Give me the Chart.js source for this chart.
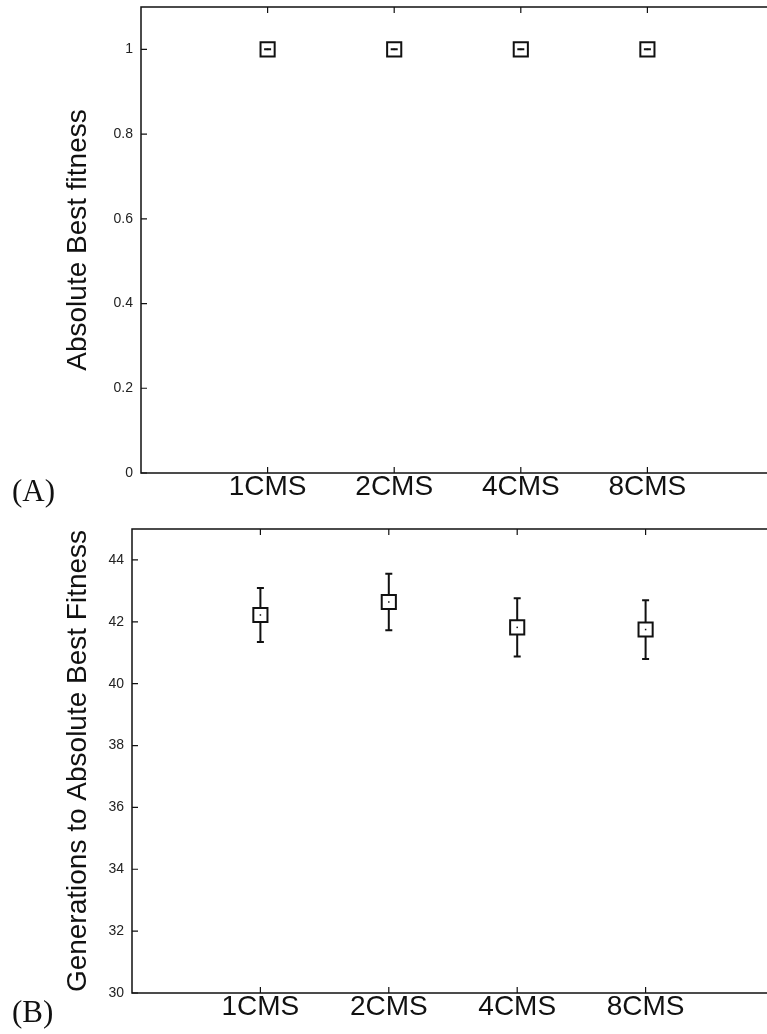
<!DOCTYPE html>
<html>
<head>
<meta charset="utf-8">
<script src="https://cdn.jsdelivr.net/npm/chart.js@4.4.0/dist/chart.umd.min.js"></script>
<style>
body { margin: 0; width: 767px; height: 1034px; overflow: hidden; background: #fff; position: relative; }
canvas { position: absolute; left: 0; }
.tag { position: absolute; left: 12px; font: 31px "Liberation Serif", "DejaVu Serif", serif; line-height: 31px; color: #111; }
</style>
</head>
<body>
<!-- the points add 12px of layout padding on every side, so the canvases sit a little outside the page -->
<canvas id="chartA" width="786" height="510" style="top:-5px;width:786px;height:510px"></canvas>
<canvas id="chartB" width="786" height="517" style="top:517px;width:786px;height:517px"></canvas>
<div class="tag" style="top:475px">(A)</div>
<div class="tag" style="top:996px">(B)</div>
<script>
// values
const categories = ['1CMS', '2CMS', '4CMS', '8CMS'];
const xPositions = [1, 2, 3, 4];
const fitnessMean = [1, 1, 1, 1];
const fitnessErr = [0, 0, 0, 0];
const genMean = [42.22, 42.64, 41.82, 41.75];
const genErr = [0.87, 0.91, 0.94, 0.95];
const yTicksA = [0, 0.2, 0.4, 0.6, 0.8, 1];
const yTicksB = [30, 32, 34, 36, 38, 40, 42, 44];

const ink = '#111';
const sans = "'Liberation Sans', Arial, sans-serif";

// box round the plot and inward tick marks, gnuplot style
const framePlugin = {
    id: 'frame',
    afterDraw(chart) {
        const { ctx, chartArea: a, scales } = chart;
        ctx.save();
        ctx.strokeStyle = ink;
        ctx.lineWidth = 1.5;
        ctx.strokeRect(a.left, a.top, a.right - a.left, a.bottom - a.top);
        ctx.lineWidth = 1.2;
        ctx.beginPath();
        scales.y.ticks.forEach(t => {
            const y = scales.y.getPixelForValue(t.value);
            ctx.moveTo(a.left, y);
            ctx.lineTo(a.left + 6, y);
        });
        scales.x.ticks.forEach(t => {
            const x = scales.x.getPixelForValue(t.value);
            ctx.moveTo(x, a.top);
            ctx.lineTo(x, a.top + 6);
            ctx.moveTo(x, a.bottom);
            ctx.lineTo(x, a.bottom - 6);
        });
        ctx.stroke();
        ctx.restore();
    }
};

// y error bars, with a gap where the square sits
const errorBarPlugin = {
    id: 'errorBars',
    afterDatasetsDraw(chart) {
        const { ctx, scales } = chart;
        const gap = 7;
        const cap = 3.5;
        ctx.save();
        ctx.strokeStyle = ink;
        ctx.lineWidth = 2;
        chart.data.datasets.forEach((ds, di) => {
            const meta = chart.getDatasetMeta(di);
            meta.data.forEach((pt, i) => {
                const v = ds.data[i].y;
                const e = ds.errors[i];
                const yTop = scales.y.getPixelForValue(v + e);
                const yBot = scales.y.getPixelForValue(v - e);
                ctx.beginPath();
                if (yTop < pt.y - gap) {
                    ctx.moveTo(pt.x, yTop);
                    ctx.lineTo(pt.x, pt.y - gap);
                    ctx.moveTo(pt.x, pt.y + gap);
                    ctx.lineTo(pt.x, yBot);
                }
                ctx.moveTo(pt.x - cap, yTop);
                ctx.lineTo(pt.x + cap, yTop);
                ctx.moveTo(pt.x - cap, yBot);
                ctx.lineTo(pt.x + cap, yBot);
                ctx.stroke();
                ctx.fillStyle = ink;
                ctx.fillRect(pt.x - 0.75, pt.y - 0.75, 1.5, 1.5);
            });
        });
        ctx.restore();
    }
};

function makeChart(id, means, errors, yTicks, yMin, yMax, yTitle, dims) {
    const ctx = document.getElementById(id).getContext('2d');
    return new Chart(ctx, {
        type: 'scatter',
        data: {
            datasets: [{
                data: xPositions.map((x, i) => ({ x: x, y: means[i] })),
                errors: errors,
                pointStyle: 'rect',
                pointRadius: 10,
                pointHoverRadius: 10,
                borderWidth: 2,
                borderColor: ink,
                backgroundColor: 'rgba(0,0,0,0)'
            }]
        },
        options: {
            responsive: false,
            animation: false,
            events: [],
            layout: { padding: 0 },
            plugins: { legend: { display: false }, tooltip: { enabled: false } },
            scales: {
                x: {
                    type: 'linear',
                    min: 0,
                    max: 5,
                    afterBuildTicks: scale => { scale.ticks = xPositions.map(v => ({ value: v })); },
                    afterFit: scale => {
                        scale.height = dims.xHeight;
                        scale.paddingLeft = 0;
                        scale.paddingRight = 0;
                    },
                    grid: { display: false, drawTicks: false },
                    border: { display: false },
                    ticks: {
                        autoSkip: false,
                        maxRotation: 0,
                        padding: -3,
                        color: ink,
                        font: { family: sans, size: 28 },
                        callback: (v, i) => categories[i]
                    }
                },
                y: {
                    min: yMin,
                    max: yMax,
                    afterBuildTicks: scale => { scale.ticks = yTicks.map(v => ({ value: v })); },
                    afterFit: scale => {
                        scale.width = dims.yWidth;
                        scale.paddingTop = 0;
                        scale.paddingBottom = 0;
                    },
                    grid: { display: false, drawTicks: false },
                    border: { display: false },
                    ticks: {
                        padding: 8,
                        color: '#222',
                        font: { family: sans, size: 14 },
                        callback: v => String(v)
                    },
                    title: {
                        display: true,
                        text: yTitle,
                        color: ink,
                        font: { family: sans, size: 28 },
                        padding: { top: 61, bottom: 0 }
                    }
                }
            }
        },
        plugins: [framePlugin, errorBarPlugin]
    });
}

makeChart('chartA', fitnessMean, fitnessErr, yTicksA, 0, 1.1, 'Absolute Best fitness',
    { yWidth: 141, xHeight: 32 });
makeChart('chartB', genMean, genErr, yTicksB, 30, 45, 'Generations to Absolute Best Fitness',
    { yWidth: 132, xHeight: 41 });
</script>
</body>
</html>
